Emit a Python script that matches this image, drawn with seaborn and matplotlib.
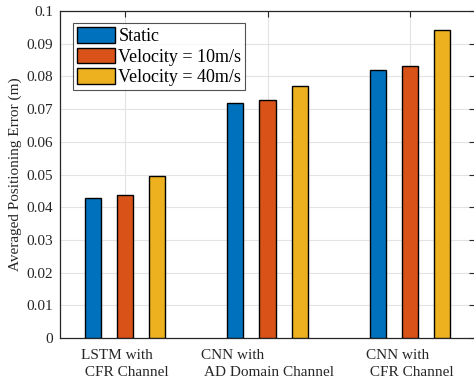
import matplotlib
matplotlib.use("Agg")
import matplotlib.pyplot as plt
import seaborn as sns
import pandas as pd

# Positioning error per model and mobility scenario
models = ["LSTM with\n CFR Channel", "CNN with\n AD Domain Channel", "CNN with\n CFR Channel"]
scenarios = ["Static", "Velocity = 10m/s", "Velocity = 40m/s"]
err_static = [0.0429, 0.0720, 0.0820]
err_v10 = [0.0437, 0.0728, 0.0833]
err_v40 = [0.0496, 0.0770, 0.0942]
yticks = [0, 0.01, 0.02, 0.03, 0.04, 0.05, 0.06, 0.07, 0.08, 0.09, 0.1]
ytick_labels = ["0", "0.01", "0.02", "0.03", "0.04", "0.05", "0.06", "0.07", "0.08", "0.09", "0.1"]

rows = []
for s, vals in zip(scenarios, [err_static, err_v10, err_v40]):
    for m, v in zip(models, vals):
        rows.append({"model": m, "scenario": s, "error": v})
df = pd.DataFrame(rows)

sns.set_theme(style="white")
plt.rcParams["font.family"] = ["Liberation Serif", "DejaVu Serif"]

palette = ["#0072BD", "#D95319", "#EDB120"]

fig = plt.figure(figsize=(4.74, 3.82), dpi=100)
ax = fig.add_axes([60 / 474, 1 - 338 / 382, 415 / 474, 327 / 382])

sns.barplot(data=df, x="model", y="error", hue="scenario", order=models,
            hue_order=scenarios, palette=palette, width=0.675, gap=0.5,
            saturation=1, edgecolor="black", linewidth=1.0, ax=ax, zorder=3)

ax.set_xlim(-0.456, 2.456)
ax.set_ylim(0, 0.1)
ax.set_yticks(yticks)
ax.set_yticklabels(ytick_labels, fontsize=11)
ax.set_xticks(range(len(models)))
ax.set_xticklabels(models, fontsize=11)
for t in ax.get_xticklabels():
    t.set_multialignment("left")
    t.set_linespacing(1.35)
ax.set_xlabel("")
ax.set_ylabel("Averaged Positioning Error (m)", fontsize=11, labelpad=3)

ax.grid(True, color="#e3e3e3", linewidth=0.8, zorder=0)
ax.set_axisbelow(True)
for sp in ax.spines.values():
    sp.set_color("#262626")
    sp.set_linewidth(0.9)
ax.tick_params(axis="both", direction="in", length=4, width=0.8, color="#262626",
               top=True, right=True, labelcolor="#262626", pad=5)
ax.tick_params(axis="x", pad=8)

leg = ax.legend(loc="upper left", bbox_to_anchor=(0.023, 0.973), fontsize=13,
                frameon=True, fancybox=False, edgecolor="#262626",
                handlelength=2.1, handleheight=0.95, handletextpad=0.2,
                labelspacing=0.15, borderpad=0.2, borderaxespad=0.2)
leg.get_frame().set_linewidth(0.8)
for t in leg.get_texts():
    t.set_color("black")

fig.savefig("out.png", dpi=100)
